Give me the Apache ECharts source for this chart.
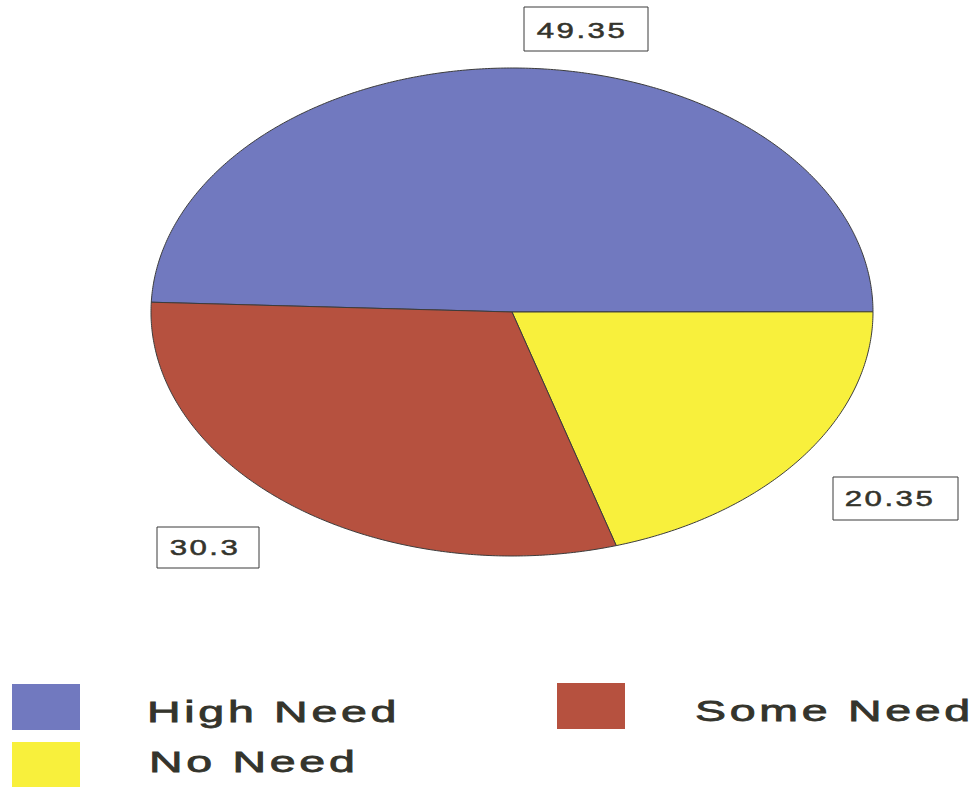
<!DOCTYPE html>
<html>
<head>
<meta charset="utf-8">
<script src="https://cdn.jsdelivr.net/npm/echarts@6/dist/echarts.min.js"></script>
<style>
  html, body { margin: 0; padding: 0; background: #ffffff; }
  #chart { width: 976px; height: 787px; }
  #chart text { letter-spacing: 0.08em; }
</style>
</head>
<body>
<div id="chart"></div>
<script>
// ---- data ----
const categories = ['High Need', 'No Need', 'Some Need'];   // pie order (clockwise)
const values = [49.35, 20.35, 30.3];
const legendOrder = ['High Need', 'Some Need', 'No Need'];

// ---- style ----
const colors = { 'High Need': '#7179BF', 'No Need': '#F8F03C', 'Some Need': '#B6513F' };
const START_DEG = 177.7;   // math angle where the first slice begins, going clockwise
const FONT = "'Liberation Sans', Arial, Helvetica, sans-serif";
const TEXT_COLOR = '#34342c';
const labelLayout = [       // value-label boxes, in pie order
  { cx: 586, cy: 29, w: 124, h: 44, tx: 582, ty: 31 },
  { cx: 895.5, cy: 498.5, w: 125, h: 43, tx: 890, ty: 499 },
  { cx: 208, cy: 547.5, w: 102, h: 41, tx: 205, ty: 548 }
];
const legendLayout = {
  'High Need': { left: 12, top: 684, tx: 147, ty: 712 },
  'Some Need': { left: 557, top: 683, tx: 695, ty: 711 },
  'No Need':   { left: 12, top: 742, tx: 149, ty: 762 }
};

const total = values.reduce((a, b) => a + b, 0);
let cum = 0;
const ranges = values.map(v => { const s = cum; cum += v; return [s / total * 100, cum / total * 100]; });

function renderSlice(params, api) {
  const s = api.value(0), e = api.value(1);
  const a0 = START_DEG - s * 3.6, a1 = START_DEG - e * 3.6;
  const pts = [api.coord([0, 0])];
  const n = Math.max(4, Math.ceil(Math.abs(a1 - a0) * 2));
  for (let i = 0; i <= n; i++) {
    const a = (a0 + (a1 - a0) * i / n) * Math.PI / 180;
    pts.push(api.coord([Math.cos(a), Math.sin(a)]));
  }
  return {
    type: 'polygon',
    shape: { points: pts },
    style: { fill: api.visual('color'), stroke: '#3c3c3c', lineWidth: 1 }
  };
}

const series = categories.map((name, i) => ({
  name: name,
  type: 'custom',
  coordinateSystem: 'cartesian2d',
  clip: false,
  silent: true,
  itemStyle: { color: colors[name] },
  renderItem: renderSlice,
  encode: { x: 0, y: 1 },
  data: [ranges[i]]
}));

const graphic = [];
categories.forEach((name, i) => {
  const L = labelLayout[i];
  graphic.push({
    type: 'rect', silent: true,
    shape: { x: L.cx - L.w / 2, y: L.cy - L.h / 2, width: L.w, height: L.h },
    style: { fill: '#ffffff', stroke: '#3a3a3a', lineWidth: 1 }
  });
  graphic.push({
    type: 'text', silent: true,
    x: L.tx, y: L.ty, scaleX: 1.42,
    style: { text: String(values[i]), font: '22px ' + FONT, fill: TEXT_COLOR,
             stroke: TEXT_COLOR, lineWidth: 0.5, align: 'center', verticalAlign: 'middle' }
  });
});
legendOrder.forEach(name => {
  const L = legendLayout[name];
  graphic.push({
    type: 'text', silent: true,
    x: L.tx, y: L.ty, scaleX: 1.55,
    style: { text: name, font: '30px ' + FONT, fill: TEXT_COLOR,
             stroke: TEXT_COLOR, lineWidth: 0.8, align: 'left', verticalAlign: 'middle' }
  });
});

const legends = legendOrder.map(name => ({
  data: [name],
  left: legendLayout[name].left,
  top: legendLayout[name].top,
  padding: 0,
  icon: 'rect',
  itemWidth: 68,
  itemHeight: 46,
  selectedMode: false,
  itemStyle: { borderWidth: 0 },
  formatter: () => '',
  textStyle: { fontSize: 1 }
}));

const chart = echarts.init(document.getElementById('chart'), null, { renderer: 'svg' });
chart.setOption({
  backgroundColor: '#ffffff',
  animation: false,
  grid: { left: 151, top: 68, width: 722, height: 488 },
  xAxis: { type: 'value', min: -1, max: 1, show: false },
  yAxis: { type: 'value', min: -1, max: 1, show: false },
  legend: legends,
  series: series,
  graphic: graphic
});
</script>
</body>
</html>
